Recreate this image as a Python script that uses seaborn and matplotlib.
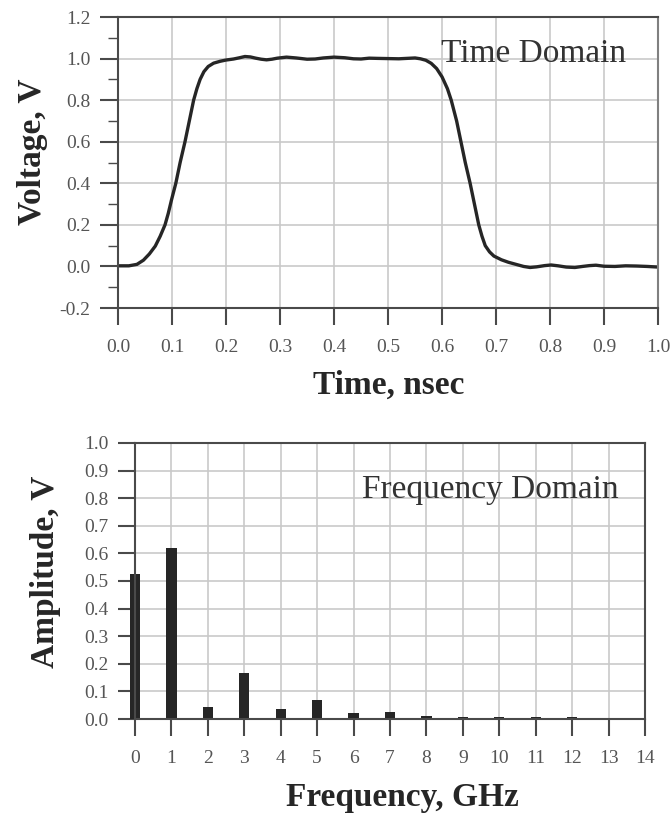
import matplotlib
matplotlib.use("Agg")
import matplotlib.pyplot as plt
from matplotlib.ticker import MultipleLocator, FixedLocator
import seaborn as sns
import pandas as pd

# ---- time-domain pulse (ns, V) ----
time_ns = [0.00, 0.02, 0.035, 0.047, 0.058, 0.069, 0.078, 0.087, 0.093, 0.099,
           0.107, 0.115, 0.124, 0.132, 0.140, 0.146, 0.152, 0.159, 0.167, 0.177,
           0.189, 0.200, 0.214, 0.225, 0.235, 0.245, 0.255, 0.265, 0.275, 0.285,
           0.295, 0.312, 0.330, 0.350, 0.365, 0.380, 0.400, 0.420, 0.436, 0.450,
           0.465, 0.480, 0.500, 0.520, 0.535, 0.550, 0.560, 0.570, 0.580, 0.590,
           0.600, 0.610, 0.617, 0.627, 0.635, 0.643, 0.652, 0.660, 0.668,
           0.674, 0.680, 0.688, 0.696, 0.710, 0.723, 0.737, 0.751, 0.763, 0.775,
           0.790, 0.802, 0.815, 0.830, 0.846, 0.860, 0.873, 0.885, 0.900, 0.920,
           0.940, 0.960, 0.980, 1.000]
voltage = [0.003, 0.003, 0.010, 0.030, 0.060, 0.098, 0.145, 0.200, 0.255, 0.320,
           0.400, 0.500, 0.600, 0.700, 0.800, 0.855, 0.900, 0.937, 0.962, 0.978,
           0.987, 0.993, 0.998, 1.004, 1.010, 1.008, 1.002, 0.997, 0.994, 0.997,
           1.002, 1.007, 1.003, 0.997, 0.998, 1.003, 1.007, 1.004, 0.999, 0.998,
           1.002, 1.001, 1.000, 0.999, 1.001, 1.003, 0.999, 0.992, 0.977, 0.952,
           0.912, 0.855, 0.800, 0.700, 0.600, 0.500, 0.400, 0.300, 0.200,
           0.145, 0.100, 0.070, 0.050, 0.032, 0.020, 0.010, 0.000, -0.005, -0.002,
           0.004, 0.007, 0.003, -0.003, -0.005, 0.000, 0.004, 0.006, 0.001, 0.000,
           0.003, 0.002, 0.000, -0.003]

# ---- frequency-domain harmonic amplitudes (GHz, V) ----
freq_ghz = [0, 1, 2, 3, 4, 5, 6, 7, 8, 9, 10, 11, 12, 13]
amplitude = [0.525, 0.618, 0.045, 0.168, 0.035, 0.068, 0.023, 0.025, 0.012,
             0.009, 0.007, 0.006, 0.006, 0.004]

time_ticks = [0.0, 0.1, 0.2, 0.3, 0.4, 0.5, 0.6, 0.7, 0.8, 0.9, 1.0]
volt_ticks = [-0.2, 0.0, 0.2, 0.4, 0.6, 0.8, 1.0, 1.2]
freq_ticks = list(range(15))
amp_ticks = [0.0, 0.1, 0.2, 0.3, 0.4, 0.5, 0.6, 0.7, 0.8, 0.9, 1.0]

sns.set_theme(style="white")
plt.rcParams["font.family"] = ["Liberation Serif", "DejaVu Serif"]

GRID = "#c9c9c9"
SPINE = "#4a4a4a"
TICKLBL = "#555555"
INK = "#262626"
LABEL_SIZE = 24
NOTE_SIZE = 24
TICK_SIZE = 14

fig = plt.figure(figsize=(6.71, 8.14), dpi=100)
ax1 = fig.add_axes([0.1759, 0.6216, 0.8048, 0.3575])
ax2 = fig.add_axes([0.2012, 0.1167, 0.7601, 0.3391])

# ---------- time domain ----------
pulse = pd.DataFrame({"t": time_ns, "v": voltage})
sns.lineplot(data=pulse, x="t", y="v", ax=ax1, color=INK, linewidth=2.4)
ax1.set_xlim(0, 1.0)
ax1.set_ylim(-0.2, 1.2)
ax1.xaxis.set_major_locator(FixedLocator(time_ticks))
ax1.yaxis.set_major_locator(FixedLocator(volt_ticks))
ax1.yaxis.set_minor_locator(MultipleLocator(0.1))
ax1.set_xticklabels([f"{v:.1f}" for v in time_ticks])
ax1.set_yticklabels([f"{v:.1f}" for v in volt_ticks])
ax1.grid(True, which="major", color=GRID, linewidth=1.2)
ax1.set_axisbelow(True)
ax1.tick_params(axis="x", which="major", bottom=True, direction="out",
                length=12, width=1.5, color=SPINE, pad=10,
                labelsize=TICK_SIZE, labelcolor=TICKLBL)
ax1.tick_params(axis="y", which="major", left=True, direction="out",
                length=13, width=1.5, color=SPINE, pad=7,
                labelsize=TICK_SIZE, labelcolor=TICKLBL)
ax1.tick_params(axis="y", which="minor", left=True, direction="out",
                length=7, width=1.0, color=SPINE)
for side in ["left", "bottom", "top"]:
    ax1.spines[side].set_color(SPINE)
    ax1.spines[side].set_linewidth(1.5)
ax1.spines["right"].set_color("#808080")
ax1.spines["right"].set_linewidth(1.5)
ax1.set_xlabel("Time, nsec", fontsize=LABEL_SIZE, fontweight="bold", color=INK)
ax1.set_ylabel("Voltage, V", fontsize=LABEL_SIZE, fontweight="bold", color=INK)
ax1.xaxis.set_label_coords(0.502, -0.265)
ax1.xaxis.label.set_va("center")
ax1.yaxis.set_label_coords(-0.159, 0.536)
ax1.yaxis.label.set_va("center")
ax1.text(0.598, 0.985, "Time Domain", fontsize=NOTE_SIZE, color="#333333",
         ha="left", va="baseline")

# ---------- frequency domain ----------
spec = pd.DataFrame({"f": freq_ghz, "a": amplitude})
sns.barplot(data=spec, x="f", y="a", ax=ax2, native_scale=True, width=0.28,
            color=INK, saturation=1, edgecolor="none")
for bar in ax2.patches:
    bar.set_clip_on(False)
ax2.set_xlim(0, 14)
ax2.set_ylim(0, 1.0)
ax2.xaxis.set_major_locator(FixedLocator(freq_ticks))
ax2.yaxis.set_major_locator(FixedLocator(amp_ticks))
ax2.set_xticklabels([str(v) for v in freq_ticks])
ax2.set_yticklabels([f"{v:.1f}" for v in amp_ticks])
ax2.grid(True, which="major", color=GRID, linewidth=1.2)
ax2.set_axisbelow(True)
ax2.tick_params(axis="x", bottom=True, direction="out", length=12, width=1.5,
                color=SPINE, pad=10, labelsize=TICK_SIZE, labelcolor=TICKLBL)
ax2.tick_params(axis="y", left=True, direction="out", length=12, width=1.5,
                color=SPINE, pad=7, labelsize=TICK_SIZE, labelcolor=TICKLBL)
for side in ["left", "bottom", "top", "right"]:
    ax2.spines[side].set_color(SPINE)
    ax2.spines[side].set_linewidth(1.5)
ax2.set_xlabel("Frequency, GHz", fontsize=LABEL_SIZE, fontweight="bold", color=INK)
ax2.set_ylabel("Amplitude, V", fontsize=LABEL_SIZE, fontweight="bold", color=INK)
ax2.xaxis.set_label_coords(0.524, -0.283)
ax2.xaxis.label.set_va("center")
ax2.yaxis.set_label_coords(-0.176, 0.533)
ax2.yaxis.label.set_va("center")
ax2.text(6.23, 0.80, "Frequency Domain", fontsize=NOTE_SIZE, color="#333333",
         ha="left", va="baseline")

fig.savefig("out.png", dpi=100)
